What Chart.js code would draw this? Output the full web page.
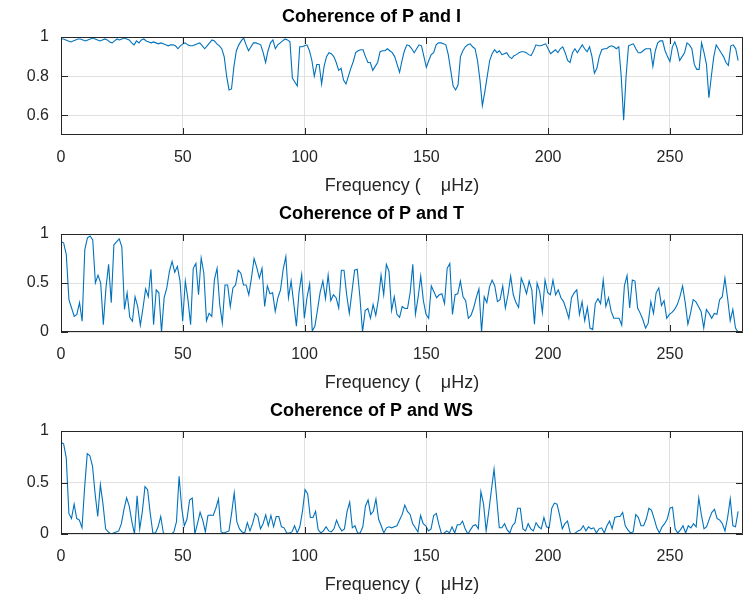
<!DOCTYPE html>
<html>
<head>
<meta charset="utf-8">
<script src="https://cdn.jsdelivr.net/npm/chart.js@4/dist/chart.umd.min.js"></script>
<style>
  body { margin: 0; background: #fff; }
  #wrap { position: relative; width: 744px; height: 596px; background: #fff; }
  .panel { position: absolute; left: 0; width: 744px; }
</style>
</head>
<body>
<div id="wrap">
  <div class="panel" style="top:0;height:197px"><canvas id="c1"></canvas></div>
  <div class="panel" style="top:197px;height:197px"><canvas id="c2"></canvas></div>
  <div class="panel" style="top:394px;height:202px"><canvas id="c3"></canvas></div>
</div>
<script>
const xTicks = [0, 50, 100, 150, 200, 250];
const lastFreq = 278;
const xLabel = 'Frequency (    \u03bcHz)';

const titles = ['Coherence of P and I', 'Coherence of P and T', 'Coherence of P and WS'];
const yTicksI = [0.6, 0.8, 1];
const yTicksT = [0, 0.5, 1];
const yTicksWS = [0, 0.5, 1];

// coherence P - I
const cohPI = [
  0.99,0.99,0.985,0.98,0.975,0.98,0.985,0.99,0.99,0.985,0.98,0.985,0.99,0.995,0.99,0.985,0.98,0.985,0.99,0.985,
  0.975,0.97,0.98,0.99,0.985,0.99,0.995,0.99,0.985,0.97,0.96,0.98,0.97,0.985,0.99,0.98,0.975,0.97,0.975,0.97,
  0.965,0.97,0.965,0.96,0.955,0.96,0.96,0.955,0.94,0.955,0.965,0.97,0.96,0.955,0.955,0.96,0.965,0.97,0.955,0.94,
  0.955,0.97,0.985,0.98,0.965,0.955,0.94,0.9,0.8,0.73,0.735,0.85,0.93,0.96,0.98,0.995,0.96,0.93,0.95,0.97,
  0.97,0.965,0.96,0.92,0.87,0.93,0.97,0.985,0.94,0.96,0.97,0.98,0.99,0.985,0.975,0.79,0.77,0.75,0.95,0.95,
  0.955,0.96,0.93,0.88,0.8,0.86,0.86,0.76,0.85,0.9,0.92,0.915,0.9,0.87,0.83,0.84,0.78,0.76,0.8,0.84,
  0.875,0.92,0.93,0.935,0.935,0.9,0.87,0.87,0.83,0.85,0.87,0.925,0.93,0.93,0.94,0.93,0.92,0.9,0.86,0.82,
  0.88,0.93,0.96,0.955,0.94,0.92,0.94,0.96,0.955,0.9,0.845,0.88,0.91,0.92,0.96,0.97,0.97,0.965,0.96,0.91,
  0.83,0.75,0.73,0.755,0.9,0.93,0.95,0.96,0.965,0.95,0.94,0.88,0.78,0.65,0.72,0.8,0.88,0.915,0.935,0.92,
  0.93,0.91,0.915,0.92,0.9,0.89,0.905,0.91,0.92,0.925,0.925,0.92,0.91,0.905,0.93,0.96,0.955,0.955,0.96,0.965,
  0.94,0.915,0.925,0.935,0.92,0.94,0.95,0.92,0.88,0.87,0.92,0.94,0.92,0.94,0.96,0.94,0.925,0.95,0.9,0.815,
  0.84,0.9,0.935,0.94,0.94,0.95,0.955,0.95,0.94,0.95,0.8,0.575,0.8,0.955,0.96,0.965,0.94,0.92,0.92,0.93,
  0.94,0.94,0.94,0.85,0.93,0.97,0.98,0.98,0.93,0.9,0.875,0.95,0.975,0.94,0.88,0.9,0.92,0.97,0.96,0.94,
  0.86,0.835,0.835,0.97,0.92,0.86,0.69,0.8,0.9,0.96,0.94,0.92,0.9,0.87,0.855,0.955,0.96,0.94,0.88
];

// coherence P - T
const cohPT = [
  0.92,0.91,0.79,0.33,0.245,0.16,0.18,0.3,0.11,0.84,0.96,0.98,0.94,0.5,0.58,0.5,0.075,0.45,0.69,0.3,
  0.89,0.92,0.95,0.87,0.23,0.4,0.15,0.11,0.36,0.26,0.07,0.245,0.44,0.36,0.64,0.075,0.43,0.4,0,0.35,
  0.45,0.62,0.72,0.61,0.67,0.52,0.11,0.52,0.33,0.075,0.65,0.7,0.38,0.755,0.6,0.115,0.19,0.16,0.535,0.65,
  0.28,0.09,0.48,
  0.48,0.26,0.45,0.48,0.63,0.6,0.48,0.48,0.38,0.55,0.75,0.66,0.55,0.65,0.26,0.47,0.39,0.4,0.21,0.35,
  0.43,0.64,0.77,0.35,0.52,0.29,0.06,0.41,0.585,0.14,0.35,0.49,0.01,0.06,0.23,0.41,0.52,0.34,0.58,0.32,
  0.38,0.35,0.245,0.63,0.63,0.38,0.19,0.41,0.63,0.64,0.36,0,0.22,0.24,0.14,0.28,0.17,0.33,0.58,0.38,
  0.69,0.62,0.22,0.36,0.18,
  0.15,0.26,0.24,0.24,0.4,0.69,0.18,0.35,0.57,0.32,0.18,0.14,0.47,0.41,0.35,0.38,0.39,0.29,0.65,0.7,
  0.18,0.38,0.39,0.52,0.36,0.32,0.14,0.17,0.245,0.35,0.44,0,0.36,0.3,0.46,0.53,0.47,0.31,0.33,0.47,
  0.245,0.38,0.57,0.38,0.3,0.25,0.55,0.48,0.39,0.52,0.43,0.08,0.5,0.41,0.2,0.53,0.4,0.38,0.53,0.38,
  0.43,0.35,
  0.31,0.23,0.14,0.35,0.4,0.43,0.18,0.31,0.115,0.25,0.04,0.025,0.29,0.34,0.29,0.53,0.26,0.35,0.21,0.14,
  0.14,0.14,0.07,0.47,0.575,0.245,0.53,0.52,0.245,0.19,0.125,0.04,0.09,0.31,0.19,0.4,0.45,0.27,0.32,0.14,
  0.18,0.2,0.23,0.28,0.36,0.47,0.3,0.08,0.19,0.33,0.31,0.26,0.21,0.04,0.23,0.19,0.14,0.19,0.18,0.33,
  0.36,0.55,0.35,0.115,0.23,0.04,0
];

// coherence P - WS
const cohPWS = [
  0.89,0.875,0.74,0.2,0.15,0.29,0.15,0.135,0.06,0.45,0.78,0.76,0.66,0.39,0.17,0.48,0.29,0.05,0.02,0,
  0.01,0.02,0.03,0.1,0.24,0.35,0.27,0.12,0,0.37,0.05,0.22,0.46,0.43,0.2,0.01,0.01,0.07,0.17,0.01,
  0,0,0,0.02,0.12,0.56,0.25,0.08,0.145,0.33,0.35,0,0.1,0.21,0.135,0.02,0.18,0.185,0.18,0.25,
  0.34,0.02,0.01,
  0.02,0.03,0.2,0.4,0.12,0.05,0.02,0.01,0.11,0.03,0.1,0.2,0.17,0.05,0.1,0.185,0.08,0.18,0.07,0.17,
  0.17,0.07,0.06,0.01,0.01,0.02,0.08,0.01,0.07,0.22,0.43,0.39,0.16,0.16,0.22,0.04,0.01,0.03,0.07,0.03,
  0.02,0.05,0.135,0.07,0.03,0.05,0.22,0.31,0.06,0.08,0.01,0.01,0.07,0.27,0.33,0.19,0.22,0.34,0.145,0.08,
  0.01,0.06,0.07,0.06,0.07,
  0.08,0.135,0.19,0.28,0.22,0.19,0.1,0.06,0.02,0.18,0.1,0.08,0.03,0.05,0.18,0.2,0.09,0,0.01,0.03,
  0.01,0.07,0.01,0.09,0.09,0.125,0.05,0,0.04,0.08,0.09,0.05,0.41,0.29,0.03,0.22,0.43,0.63,0.35,0.06,
  0.06,0.1,0.04,0.01,0.08,0.11,0.25,0.25,0.05,0.03,0.1,0.05,0.03,0.11,0.07,0.05,0.16,0.07,0.06,0.25,
  0.3,0.29,0.18,0.05,
  0.1,0.125,0.01,0,0.01,0.03,0.04,0.08,0.03,0.07,0.05,0.06,0.01,0.05,0.06,0.01,0.08,0.125,0.05,0.16,
  0.17,0.17,0.21,0.08,0.04,0.01,0.02,0.19,0.16,0.08,0.08,0.145,0.25,0.23,0.15,0.06,0.01,0.07,0.1,0.145,
  0.25,0.26,0.05,0.01,0.04,0.08,0.01,0.08,0.06,0.1,0.07,0.35,0.185,0.05,0.07,0.145,0.21,0.24,0.15,0.135,
  0.1,0.03,0.16,0.34,0.08,0.07,0.22
];

const FONT = "'Liberation Sans', Arial, Helvetica, sans-serif";
const lineColor = '#0072BD';
const axisColor = '#262626';
const gridColor = '#e0e0e0';

// MATLAB style box with inward ticks on all four sides
const boxPlugin = {
  id: 'matlabBox',
  afterDraw(chart) {
    const { ctx, chartArea: a, scales: { x, y } } = chart;
    const len = 7;
    ctx.save();
    ctx.strokeStyle = axisColor;
    ctx.lineWidth = 1;
    ctx.beginPath();
    ctx.rect(Math.round(a.left) + 0.5, Math.round(a.top) + 0.5,
             Math.round(a.right) - Math.round(a.left) - 1, Math.round(a.bottom) - Math.round(a.top) - 1);
    x.ticks.forEach(t => {
      const px = Math.round(x.getPixelForValue(t.value)) + 0.5;
      ctx.moveTo(px, a.bottom); ctx.lineTo(px, a.bottom - len);
      ctx.moveTo(px, a.top); ctx.lineTo(px, a.top + len);
    });
    y.ticks.forEach(t => {
      const py = Math.round(y.getPixelForValue(t.value)) + 0.5;
      ctx.moveTo(a.left, py); ctx.lineTo(a.left + len, py);
      ctx.moveTo(a.right, py); ctx.lineTo(a.right - len, py);
    });
    ctx.stroke();
    ctx.restore();
  }
};

function makeChart(id, title, values, yMin, yTicks) {
  const step = lastFreq / (values.length - 1);
  const points = values.map((v, i) => ({ x: i * step, y: v }));
  return new Chart(document.getElementById(id), {
    type: 'line',
    data: {
      datasets: [{
        data: points,
        borderColor: lineColor,
        borderWidth: 1.1,
        pointRadius: 0,
        tension: 0,
        fill: false
      }]
    },
    options: {
      responsive: true,
      maintainAspectRatio: false,
      animation: false,
      events: [],
      layout: { padding: { left: 0, right: 1, top: 0, bottom: 0 } },
      plugins: {
        legend: { display: false },
        tooltip: { enabled: false },
        title: {
          display: true,
          text: title,
          color: '#000',
          font: { family: FONT, size: 18, weight: 'bold' },
          padding: { top: 6, bottom: 9.4 }
        }
      },
      scales: {
        x: {
          type: 'linear',
          min: 0,
          max: 280,
          afterBuildTicks: s => { s.ticks = xTicks.map(v => ({ value: v })); },
          afterFit: s => { s.height = 62; },
          border: { display: false },
          grid: { color: gridColor, drawTicks: false },
          ticks: {
            color: axisColor,
            padding: 13,
            maxRotation: 0,
            font: { family: FONT, size: 16 },
            callback: v => String(v)
          },
          title: {
            display: true,
            text: xLabel,
            color: axisColor,
            font: { family: FONT, size: 18 },
            padding: { top: 0, bottom: 0 }
          }
        },
        y: {
          min: yMin,
          max: 1,
          afterBuildTicks: s => { s.ticks = yTicks.map(v => ({ value: v })); },
          afterFit: s => { s.width = 61; },
          border: { display: false },
          grid: { color: gridColor, drawTicks: false },
          ticks: {
            color: axisColor,
            padding: 12,
            font: { family: FONT, size: 16 },
            callback: v => String(v)
          }
        }
      }
    },
    plugins: [boxPlugin]
  });
}

makeChart('c1', titles[0], cohPI, 0.5, yTicksI);
makeChart('c2', titles[1], cohPT, 0, yTicksT);
makeChart('c3', titles[2], cohPWS, 0, yTicksWS);
</script>
</body>
</html>
